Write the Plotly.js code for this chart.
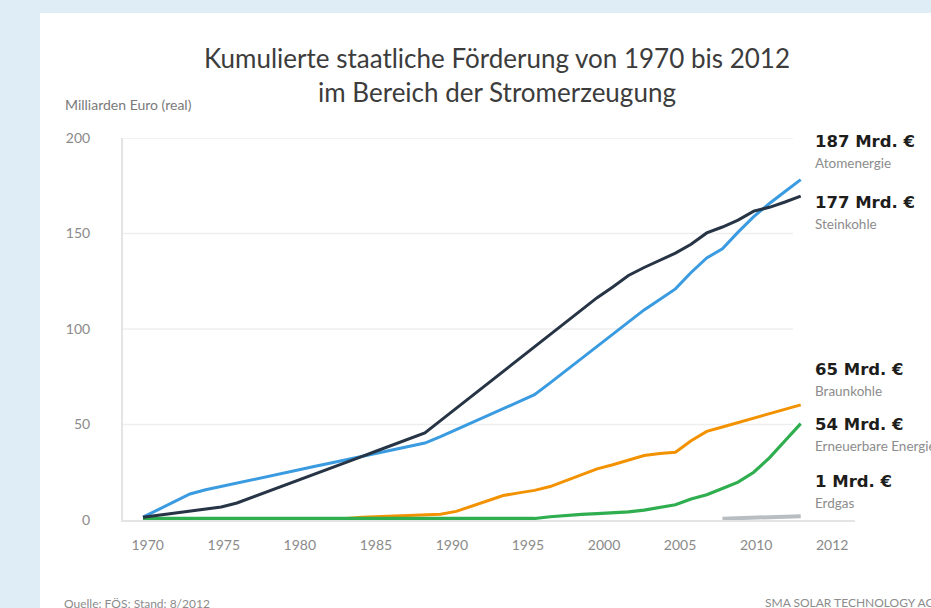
<!DOCTYPE html>
<html><head><meta charset="utf-8">
<script src="https://cdn.plot.ly/plotly-3.0.1.min.js"></script>
<style>
html,body{margin:0;padding:0;background:#deedf6;width:931px;height:608px;overflow:hidden}
#chart{position:absolute;left:40px;top:13px;width:891px;height:595px;background:#fff}
</style></head><body><div id="chart"></div>
<script>
// ---- data ----
const years = [1970,1971,1972,1973,1974,1975,1976,1977,1978,1979,
               1980,1981,1982,1983,1984,1985,1986,1987,1988,1989,
               1990,1991,1992,1993,1994,1995,1996,1997,1998,1999,
               2000,2001,2002,2003,2004,2005,2006,2007,2008,2009,
               2010,2011,2012];
const atomenergie = [1.5,5.5,9.5,13.6,15.8,17.6,19.3,21.1,22.8,24.6,
                     26.3,28.1,29.8,31.6,33.3,35.1,36.8,38.6,40.3,43.6,
                     47.3,51.0,54.6,58.3,61.9,65.6,71.8,78.1,84.4,90.7,
                     97.0,103.3,110.0,115.5,121.0,129.6,137.2,142.0,150.7,158.8,
                     165.7,172.0,178.2];
const steinkohle = [1.5,2.6,3.6,4.7,5.7,6.8,8.9,11.9,15.0,18.0,
                    21.1,24.2,27.2,30.3,33.3,36.4,39.5,42.5,45.6,52.0,
                    58.4,64.9,71.3,77.8,84.2,90.7,97.1,103.5,110.0,116.4,
                    122.0,128.0,132.2,136.1,139.7,144.4,150.3,153.4,157.0,161.7,
                    163.7,166.5,169.6];
const braunkohle = [0.5,0.5,0.5,0.5,0.5,0.5,0.5,0.5,0.5,0.5,
                    0.5,0.5,0.5,0.8,1.5,1.8,2.0,2.2,2.5,3.0,
                    4.5,7.4,10.2,12.8,14.2,15.5,17.5,20.7,24.0,26.8,
                    28.9,31.3,33.8,34.8,35.5,41.5,46.4,48.7,51.0,53.3,
                    55.6,58.0,60.3];
const erneuerbare = [0.8,0.8,0.8,0.8,0.8,0.8,0.8,0.8,0.8,0.8,
                     0.8,0.8,0.8,0.8,0.8,0.8,0.8,0.8,0.8,0.8,
                     0.8,0.8,0.8,0.8,0.8,0.8,1.7,2.4,2.9,3.3,
                     3.7,4.3,5.2,6.5,8.0,11.0,13.2,16.5,19.8,25.0,
                     32.5,41.5,50.5];
const erdgasYears = [2007,2008,2009,2010,2011,2012];
const erdgas = [0.7,1.0,1.2,1.5,1.7,2.0];

const xTickLabels = ['1970','1975','1980','1985','1990','1995','2000','2005','2010','2012'];
const yTickVals = [0,50,100,150,200];
const seriesNames = ['Atomenergie','Steinkohle','Braunkohle','Erneuerbare Energien','Erdgas'];
const seriesTotals = ['187 Mrd. €','177 Mrd. €','65 Mrd. €','54 Mrd. €','1 Mrd. €'];

// ---- layout helpers (page pixel -> paper units of the plot area) ----
const Y0 = 520.5, PH = 382.2, PLEFT = 123, PW = 732;
const yp = p => (Y0 - p) / PH;
const xp = p => (p - PLEFT) / PW;

const lineStyle = [
  {color:'#3a9be0', width:3},
  {color:'#263445', width:3},
  {color:'#f39200', width:3},
  {color:'#2fae4f', width:3.2},
  {color:'#b8bdc2', width:4}
];

const traces = [
  {x: erdgasYears, y: erdgas, mode:'lines', line: lineStyle[4], name: seriesNames[4]},
  {x: years, y: braunkohle, mode:'lines', line: lineStyle[2], name: seriesNames[2]},
  {x: years, y: erneuerbare, mode:'lines', line: lineStyle[3], name: seriesNames[3]},
  {x: years, y: atomenergie, mode:'lines', line: lineStyle[0], name: seriesNames[0]},
  {x: years, y: steinkohle, mode:'lines', line: lineStyle[1], name: seriesNames[1]},
  {x: xTickLabels, y: xTickLabels.map(() => null), xaxis:'x2', mode:'lines', showlegend:false, hoverinfo:'skip'}
];

const totalY = [142.3, 203.3, 370, 425, 482.3];
const annotations = [];
seriesTotals.forEach((t, i) => {
  annotations.push({text: t, xref:'paper', x: xp(813), xanchor:'left', yref:'paper', y: yp(totalY[i]), yanchor:'middle',
    showarrow:false, font:{family:'DejaVu Sans', size:16.5, weight:'bold', color:'#1d1d1b'}});
  annotations.push({text: seriesNames[i], xref:'paper', x: xp(813), xanchor:'left', yref:'paper', y: yp(totalY[i] + 21.5), yanchor:'middle',
    showarrow:false, font:{family:'Lato', size:13.5, color:'#8c8c8c'}});
});
annotations.push({text:'Milliarden Euro (real)', xref:'paper', x: xp(63), xanchor:'left', yref:'paper', y: yp(105), yanchor:'middle',
  showarrow:false, font:{family:'Lato', size:14, color:'#7a7a7a'}});
annotations.push({text:'Quelle: FÖS; Stand: 8/2012', xref:'paper', x: xp(62), xanchor:'left', yref:'paper', y: yp(604), yanchor:'middle',
  showarrow:false, font:{family:'Lato', size:12, color:'#8c8c8c'}});
annotations.push({text:'SMA SOLAR TECHNOLOGY AG', xref:'paper', x: xp(763), xanchor:'left', yref:'paper', y: yp(603), yanchor:'middle',
  showarrow:false, font:{family:'Lato', size:12, color:'#8c8c8c'}});

const shapes = yTickVals.filter(v => v > 0).map(v => ({
  type:'line', xref:'paper', x0:0, x1: xp(793), yref:'y', y0:v, y1:v, layer:'below',
  line:{color:'#eeeeee', width:1.5}
}));

const layout = {
  width: 891, height: 595,
  margin: {l:83, r:76, t:125.3, b:87.5},
  paper_bgcolor:'#ffffff', plot_bgcolor:'#ffffff',
  showlegend:false, hovermode:false,
  title: {
    text: 'Kumulierte staatliche Förderung von 1970 bis 2012<br>im Bereich der Stromerzeugung',
    font: {family:'Lato', size:26, color:'#3c3c3c'},
    xref:'container', x: (497 - 40) / 891, xanchor:'center',
    yref:'container', y: 1 - (68 - 13) / 595, yanchor:'top'
  },
  xaxis: {
    range: [1968.723, 2015.467], showticklabels:false, ticks:'', showgrid:false, zeroline:false,
    showline:true, linecolor:'#e4e4e4', linewidth:2
  },
  xaxis2: {
    overlaying:'x', anchor:'y', side:'bottom', type:'category',
    categoryorder:'array', categoryarray: xTickLabels,
    range: [-0.325, 9.3], showgrid:false, zeroline:false, showline:false, ticks:'',
    tickfont:{family:'Lato', size:14, color:'#8a8a8a'}, ticklabelstandoff: 15
  },
  yaxis: {
    range: [0, 200], tickvals: yTickVals, ticks:'', showgrid:false, zeroline:false,
    showline:true, linecolor:'#e4e4e4', linewidth:2,
    tickfont:{family:'Lato', size:14, color:'#8a8a8a'}, ticklabelstandoff: 28
  },
  annotations, shapes
};

Plotly.newPlot('chart', traces, layout, {staticPlot:true, displayModeBar:false});
</script></body></html>
